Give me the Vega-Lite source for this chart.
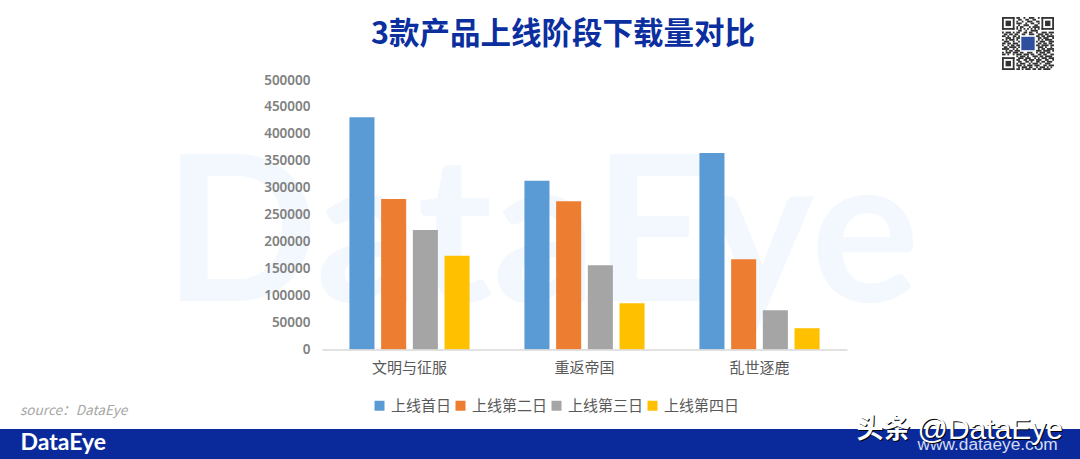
{
  "$schema": "https://vega.github.io/schema/vega-lite/v6.json",
  "width": 1080,
  "height": 459,
  "padding": 0,
  "autosize": {"type": "none"},
  "background": "white",
  "view": {
    "stroke": null,
    "fill": {
      "gradient": "linear", "x1": 0, "y1": 0, "x2": 0, "y2": 1,
      "stops": [
        {"offset": 0, "color": "#ffffff"},
        {"offset": 0.9346, "color": "#ffffff"},
        {"offset": 0.9346, "color": "#0a2a9c"},
        {"offset": 1, "color": "#0a2a9c"}
      ]
    }
  },
  "title": {
    "text": "3款产品上线阶段下载量对比",
    "font": "Noto Sans CJK SC",
    "fontSize": 30.5,
    "fontWeight": "bold",
    "color": "#0b2f9f",
    "anchor": "middle",
    "frame": "group",
    "dx": 23,
    "offset": -50
  },
  "resolve": {"scale": {"x": "independent", "y": "independent"}},
  "layer": [
    {
      "layer": [
        {
          "data": {"values": [{"label": "DataEye"}]},
          "mark": {"type": "text", "font": "Lato", "fontSize": 203, "fontWeight": "bold", "color": "#f2f8fd", "align": "center", "baseline": "middle", "dx": -43, "dy": 25},
          "encoding": {"x": {"datum": "重返帝国"}, "y": {"datum": 250000}, "text": {"field": "label"}}
        },
        {
          "data": {"values": [
            {"game": "文明与征服", "stage": "上线首日", "downloads": 430700},
            {"game": "文明与征服", "stage": "上线第二日", "downloads": 279000},
            {"game": "文明与征服", "stage": "上线第三日", "downloads": 221500},
            {"game": "文明与征服", "stage": "上线第四日", "downloads": 174000},
            {"game": "重返帝国", "stage": "上线首日", "downloads": 313000},
            {"game": "重返帝国", "stage": "上线第二日", "downloads": 275000},
            {"game": "重返帝国", "stage": "上线第三日", "downloads": 156500},
            {"game": "重返帝国", "stage": "上线第四日", "downloads": 86000},
            {"game": "乱世逐鹿", "stage": "上线首日", "downloads": 364500},
            {"game": "乱世逐鹿", "stage": "上线第二日", "downloads": 167500},
            {"game": "乱世逐鹿", "stage": "上线第三日", "downloads": 73000},
            {"game": "乱世逐鹿", "stage": "上线第四日", "downloads": 39500}
          ]},
          "mark": {"type": "bar"},
          "encoding": {
            "x": {
              "field": "game",
              "type": "nominal",
              "sort": ["文明与征服", "重返帝国", "乱世逐鹿"],
              "title": null,
              "scale": {"range": [322, 847], "paddingInner": 0, "paddingOuter": 0},
              "axis": {
                "offset": -109.5,
                "orient": "bottom",
                "zindex": 1,
                "labelAngle": 0,
                "labelAlign": "center",
                "labelBaseline": "top",
                "ticks": false,
                "labelPadding": 11,
                "labelFont": "Noto Sans CJK SC",
                "labelFontSize": 15,
                "labelColor": "#595959",
                "domainColor": "#d9d9d9",
                "domainWidth": 1.5
              }
            },
            "xOffset": {
              "field": "stage",
              "type": "nominal",
              "sort": ["上线首日", "上线第二日", "上线第三日", "上线第四日"],
              "scale": {"paddingInner": 0.21, "paddingOuter": 0.865}
            },
            "y": {
              "field": "downloads",
              "type": "quantitative",
              "title": null,
              "scale": {"domain": [0, 500000], "range": [349.5, 80], "nice": false},
              "axis": {
                "offset": -312,
                "zindex": 1,
                "values": [0, 50000, 100000, 150000, 200000, 250000, 300000, 350000, 400000, 450000, 500000],
                "format": "d",
                "domain": false,
                "ticks": false,
                "grid": false,
                "labelPadding": 2,
                "labelFont": "Noto Sans",
                "labelFontSize": 13.5,
                "labelFontWeight": 600,
                "labelColor": "#808080"
              }
            },
            "color": {
              "field": "stage",
              "type": "nominal",
              "sort": ["上线首日", "上线第二日", "上线第三日", "上线第四日"],
              "scale": {"range": ["#5b9bd5", "#ed7d31", "#a5a5a5", "#ffc000"]},
              "legend": {
                "title": null,
                "orient": "none",
                "legendX": 372,
                "legendY": 398,
                "direction": "horizontal",
                "columns": 4,
                "columnPadding": 1,
                "symbolType": "square",
                "symbolSize": 100,
                "symbolStrokeWidth": 0,
                "labelOffset": 4,
                "labelFont": "Noto Sans CJK SC",
                "labelFontSize": 15,
                "labelColor": "#595959"
              }
            }
          }
        },
        {
          "data": {"values": [{"label": "source：DataEye"}]},
          "mark": {"type": "text", "font": "Noto Sans CJK SC", "fontSize": 13.6, "fontStyle": "italic", "color": "#a6a6a6", "align": "left", "baseline": "middle", "dx": -389.5, "dy": 61.5},
          "encoding": {"x": {"datum": "文明与征服"}, "y": {"datum": 0}, "text": {"field": "label"}}
        },
        {
          "data": {"values": [{"label": "DataEye"}]},
          "mark": {"type": "text", "font": "Lato", "fontSize": 23, "fontWeight": "bold", "color": "#ffffff", "align": "left", "baseline": "middle", "dx": -389, "dy": 93.5},
          "encoding": {"x": {"datum": "文明与征服"}, "y": {"datum": 0}, "text": {"field": "label"}}
        },
        {
          "data": {"values": [{"label": "www.dataeye.com"}]},
          "mark": {"type": "text", "font": "Liberation Sans", "fontSize": 17.3, "color": "#d5dcf2", "align": "left", "baseline": "middle", "dx": 158, "dy": 95},
          "encoding": {"x": {"datum": "乱世逐鹿"}, "y": {"datum": 0}, "text": {"field": "label"}}
        },
        {
          "data": {"values": [{"label": "头条"}]},
          "mark": {"type": "text", "font": "Noto Sans CJK SC", "fontSize": 27, "fontWeight": "bold", "color": "#000000", "align": "left", "baseline": "middle", "dx": 98, "dy": 81},
          "encoding": {"x": {"datum": "乱世逐鹿"}, "y": {"datum": 0}, "text": {"field": "label"}}
        },
        {
          "data": {"values": [{"label": "头条"}]},
          "mark": {"type": "text", "font": "Noto Sans CJK SC", "fontSize": 27, "fontWeight": "bold", "color": "#ffffff", "align": "left", "baseline": "middle", "dx": 97, "dy": 80},
          "encoding": {"x": {"datum": "乱世逐鹿"}, "y": {"datum": 0}, "text": {"field": "label"}}
        },
        {
          "data": {"values": [{"label": "@DataEye"}]},
          "mark": {"type": "text", "font": "Liberation Sans", "fontSize": 30, "color": "#000000", "align": "left", "baseline": "middle", "dx": 159, "dy": 81},
          "encoding": {"x": {"datum": "乱世逐鹿"}, "y": {"datum": 0}, "text": {"field": "label"}}
        },
        {
          "data": {"values": [{"label": "@DataEye"}]},
          "mark": {"type": "text", "font": "Liberation Sans", "fontSize": 30, "color": "#ffffff", "align": "left", "baseline": "middle", "dx": 158, "dy": 80},
          "encoding": {"x": {"datum": "乱世逐鹿"}, "y": {"datum": 0}, "text": {"field": "label"}}
        }
      ]
    },
    {
      "layer": [
        {
          "data": {"values": [
            {"c0":0,"c1":7,"r":0,"r2":1},{"c0":0,"c1":7,"r":6,"r2":7},{"c0":0,"c1":1,"r":0,"r2":7},{"c0":6,"c1":7,"r":0,"r2":7},{"c0":2,"c1":5,"r":2,"r2":5},
            {"c0":22,"c1":29,"r":0,"r2":1},{"c0":22,"c1":29,"r":6,"r2":7},{"c0":22,"c1":23,"r":0,"r2":7},{"c0":28,"c1":29,"r":0,"r2":7},{"c0":24,"c1":27,"r":2,"r2":5},
            {"c0":0,"c1":7,"r":22,"r2":23},{"c0":0,"c1":7,"r":28,"r2":29},{"c0":0,"c1":1,"r":22,"r2":29},{"c0":6,"c1":7,"r":22,"r2":29},{"c0":2,"c1":5,"r":24,"r2":27},
            {"c0":8,"c1":10,"r":0,"r2":1},{"c0":12,"c1":13,"r":0,"r2":1},{"c0":15,"c1":18,"r":0,"r2":1},{"c0":20,"c1":21,"r":0,"r2":1},
            {"c0":9,"c1":11,"r":1,"r2":2},{"c0":13,"c1":15,"r":1,"r2":2},{"c0":17,"c1":19,"r":1,"r2":2},
            {"c0":8,"c1":9,"r":2,"r2":3},{"c0":11,"c1":12,"r":2,"r2":3},{"c0":14,"c1":17,"r":2,"r2":3},{"c0":19,"c1":21,"r":2,"r2":3},
            {"c0":8,"c1":11,"r":3,"r2":4},{"c0":13,"c1":14,"r":3,"r2":4},{"c0":16,"c1":18,"r":3,"r2":4},{"c0":20,"c1":21,"r":3,"r2":4},
            {"c0":9,"c1":10,"r":4,"r2":5},{"c0":12,"c1":15,"r":4,"r2":5},{"c0":18,"c1":20,"r":4,"r2":5},
            {"c0":8,"c1":9,"r":5,"r2":6},{"c0":10,"c1":12,"r":5,"r2":6},{"c0":15,"c1":16,"r":5,"r2":6},{"c0":17,"c1":21,"r":5,"r2":6},
            {"c0":8,"c1":9,"r":6,"r2":7},{"c0":10,"c1":11,"r":6,"r2":7},{"c0":12,"c1":13,"r":6,"r2":7},{"c0":14,"c1":15,"r":6,"r2":7},{"c0":16,"c1":17,"r":6,"r2":7},{"c0":18,"c1":19,"r":6,"r2":7},{"c0":20,"c1":21,"r":6,"r2":7},
            {"c0":9,"c1":11,"r":7,"r2":8},{"c0":13,"c1":14,"r":7,"r2":8},{"c0":16,"c1":20,"r":7,"r2":8},
            {"c0":0,"c1":1,"r":8,"r2":9},{"c0":2,"c1":5,"r":8,"r2":9},{"c0":6,"c1":7,"r":8,"r2":9},{"c0":8,"c1":10,"r":8,"r2":9},{"c0":12,"c1":14,"r":8,"r2":9},{"c0":15,"c1":17,"r":8,"r2":9},{"c0":19,"c1":20,"r":8,"r2":9},{"c0":22,"c1":25,"r":8,"r2":9},{"c0":26,"c1":29,"r":8,"r2":9},
            {"c0":1,"c1":3,"r":9,"r2":10},{"c0":4,"c1":6,"r":9,"r2":10},{"c0":7,"c1":9,"r":9,"r2":10},{"c0":11,"c1":13,"r":9,"r2":10},{"c0":15,"c1":18,"r":9,"r2":10},{"c0":20,"c1":23,"r":9,"r2":10},{"c0":24,"c1":26,"r":9,"r2":10},{"c0":27,"c1":28,"r":9,"r2":10},
            {"c0":0,"c1":2,"r":10,"r2":11},{"c0":3,"c1":4,"r":10,"r2":11},{"c0":6,"c1":8,"r":10,"r2":11},{"c0":9,"c1":10,"r":10,"r2":11},{"c0":19,"c1":21,"r":10,"r2":11},{"c0":22,"c1":24,"r":10,"r2":11},{"c0":25,"c1":29,"r":10,"r2":11},
            {"c0":2,"c1":5,"r":11,"r2":12},{"c0":6,"c1":7,"r":11,"r2":12},{"c0":8,"c1":10,"r":11,"r2":12},{"c0":20,"c1":22,"r":11,"r2":12},{"c0":23,"c1":26,"r":11,"r2":12},{"c0":28,"c1":29,"r":11,"r2":12},
            {"c0":0,"c1":1,"r":12,"r2":13},{"c0":2,"c1":3,"r":12,"r2":13},{"c0":4,"c1":7,"r":12,"r2":13},{"c0":8,"c1":9,"r":12,"r2":13},{"c0":20,"c1":21,"r":12,"r2":13},{"c0":22,"c1":23,"r":12,"r2":13},{"c0":24,"c1":28,"r":12,"r2":13},
            {"c0":1,"c1":4,"r":13,"r2":14},{"c0":6,"c1":7,"r":13,"r2":14},{"c0":9,"c1":10,"r":13,"r2":14},{"c0":19,"c1":20,"r":13,"r2":14},{"c0":21,"c1":24,"r":13,"r2":14},{"c0":26,"c1":29,"r":13,"r2":14},
            {"c0":0,"c1":2,"r":14,"r2":15},{"c0":3,"c1":5,"r":14,"r2":15},{"c0":6,"c1":9,"r":14,"r2":15},{"c0":20,"c1":22,"r":14,"r2":15},{"c0":23,"c1":25,"r":14,"r2":15},{"c0":26,"c1":28,"r":14,"r2":15},
            {"c0":0,"c1":1,"r":15,"r2":16},{"c0":3,"c1":4,"r":15,"r2":16},{"c0":5,"c1":7,"r":15,"r2":16},{"c0":8,"c1":10,"r":15,"r2":16},{"c0":19,"c1":21,"r":15,"r2":16},{"c0":22,"c1":26,"r":15,"r2":16},{"c0":27,"c1":29,"r":15,"r2":16},
            {"c0":1,"c1":3,"r":16,"r2":17},{"c0":4,"c1":8,"r":16,"r2":17},{"c0":9,"c1":10,"r":16,"r2":17},{"c0":20,"c1":23,"r":16,"r2":17},{"c0":24,"c1":25,"r":16,"r2":17},{"c0":27,"c1":28,"r":16,"r2":17},
            {"c0":0,"c1":4,"r":17,"r2":18},{"c0":6,"c1":7,"r":17,"r2":18},{"c0":8,"c1":9,"r":17,"r2":18},{"c0":20,"c1":21,"r":17,"r2":18},{"c0":22,"c1":24,"r":17,"r2":18},{"c0":25,"c1":29,"r":17,"r2":18},
            {"c0":2,"c1":3,"r":18,"r2":19},{"c0":4,"c1":6,"r":18,"r2":19},{"c0":7,"c1":10,"r":18,"r2":19},{"c0":19,"c1":22,"r":18,"r2":19},{"c0":23,"c1":27,"r":18,"r2":19},{"c0":28,"c1":29,"r":18,"r2":19},
            {"c0":0,"c1":1,"r":19,"r2":20},{"c0":2,"c1":5,"r":19,"r2":20},{"c0":6,"c1":9,"r":19,"r2":20},{"c0":10,"c1":12,"r":19,"r2":20},{"c0":14,"c1":17,"r":19,"r2":20},{"c0":19,"c1":20,"r":19,"r2":20},{"c0":21,"c1":24,"r":19,"r2":20},{"c0":25,"c1":27,"r":19,"r2":20},
            {"c0":0,"c1":2,"r":20,"r2":21},{"c0":3,"c1":4,"r":20,"r2":21},{"c0":6,"c1":7,"r":20,"r2":21},{"c0":8,"c1":11,"r":20,"r2":21},{"c0":12,"c1":15,"r":20,"r2":21},{"c0":16,"c1":18,"r":20,"r2":21},{"c0":20,"c1":22,"r":20,"r2":21},{"c0":23,"c1":25,"r":20,"r2":21},{"c0":27,"c1":29,"r":20,"r2":21},
            {"c0":8,"c1":9,"r":21,"r2":22},{"c0":10,"c1":13,"r":21,"r2":22},{"c0":14,"c1":15,"r":21,"r2":22},{"c0":17,"c1":20,"r":21,"r2":22},{"c0":21,"c1":23,"r":21,"r2":22},{"c0":24,"c1":28,"r":21,"r2":22},
            {"c0":9,"c1":12,"r":22,"r2":23},{"c0":13,"c1":16,"r":22,"r2":23},{"c0":18,"c1":19,"r":22,"r2":23},{"c0":20,"c1":21,"r":22,"r2":23},{"c0":22,"c1":25,"r":22,"r2":23},{"c0":26,"c1":29,"r":22,"r2":23},
            {"c0":8,"c1":10,"r":23,"r2":24},{"c0":12,"c1":14,"r":23,"r2":24},{"c0":15,"c1":18,"r":23,"r2":24},{"c0":19,"c1":22,"r":23,"r2":24},{"c0":24,"c1":26,"r":23,"r2":24},{"c0":28,"c1":29,"r":23,"r2":24},
            {"c0":9,"c1":11,"r":24,"r2":25},{"c0":13,"c1":15,"r":24,"r2":25},{"c0":16,"c1":17,"r":24,"r2":25},{"c0":19,"c1":21,"r":24,"r2":25},{"c0":22,"c1":24,"r":24,"r2":25},{"c0":25,"c1":28,"r":24,"r2":25},
            {"c0":8,"c1":9,"r":25,"r2":26},{"c0":10,"c1":13,"r":25,"r2":26},{"c0":15,"c1":16,"r":25,"r2":26},{"c0":17,"c1":20,"r":25,"r2":26},{"c0":21,"c1":22,"r":25,"r2":26},{"c0":24,"c1":27,"r":25,"r2":26},
            {"c0":8,"c1":11,"r":26,"r2":27},{"c0":12,"c1":13,"r":26,"r2":27},{"c0":14,"c1":17,"r":26,"r2":27},{"c0":18,"c1":21,"r":26,"r2":27},{"c0":23,"c1":25,"r":26,"r2":27},{"c0":26,"c1":29,"r":26,"r2":27},
            {"c0":9,"c1":10,"r":27,"r2":28},{"c0":11,"c1":14,"r":27,"r2":28},{"c0":15,"c1":17,"r":27,"r2":28},{"c0":19,"c1":20,"r":27,"r2":28},{"c0":21,"c1":24,"r":27,"r2":28},{"c0":25,"c1":26,"r":27,"r2":28},{"c0":27,"c1":28,"r":27,"r2":28},
            {"c0":8,"c1":10,"r":28,"r2":29},{"c0":11,"c1":12,"r":28,"r2":29},{"c0":13,"c1":16,"r":28,"r2":29},{"c0":17,"c1":19,"r":28,"r2":29},{"c0":20,"c1":22,"r":28,"r2":29},{"c0":23,"c1":27,"r":28,"r2":29}
          ]},
          "mark": {"type": "rect", "color": "#333333"},
          "encoding": {
            "x": {"field": "c0", "type": "quantitative", "axis": null, "scale": {"domain": [0, 29], "range": [1002, 1054], "nice": false, "zero": false}},
            "x2": {"field": "c1"},
            "y": {"field": "r", "type": "quantitative", "axis": null, "scale": {"domain": [0, 29], "range": [17, 70], "nice": false, "zero": false}},
            "y2": {"field": "r2"}
          }
        },
        {
          "data": {"values": [{"c0": 10.5, "c1": 18.5, "r": 10.5, "r2": 18.5}]},
          "mark": {"type": "rect", "color": "#2d4f9e", "stroke": "#ffffff", "strokeWidth": 1},
          "encoding": {
            "x": {"field": "c0", "type": "quantitative"},
            "x2": {"field": "c1"},
            "y": {"field": "r", "type": "quantitative"},
            "y2": {"field": "r2"}
          }
        }
      ]
    }
  ]
}
